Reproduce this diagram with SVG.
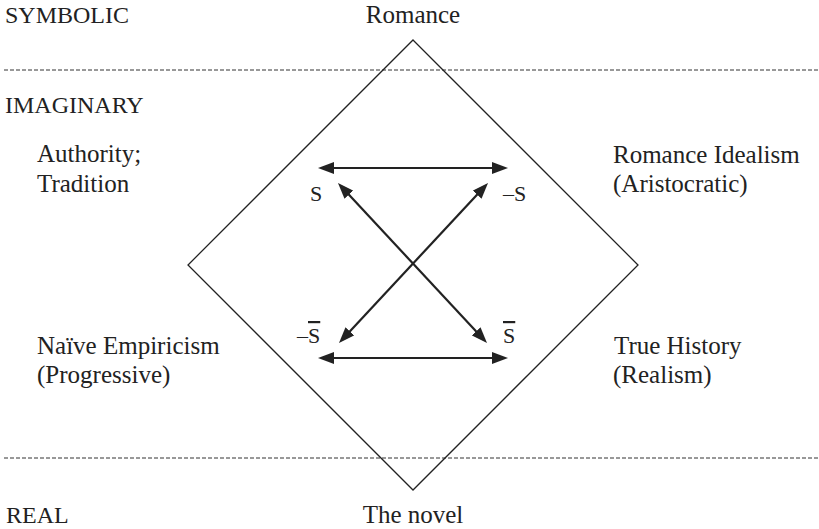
<svg xmlns="http://www.w3.org/2000/svg" width="819" height="529" viewBox="0 0 819 529">
<style>
  text { font-family: "Liberation Serif", "Times New Roman", Times, "DejaVu Serif", serif; fill: #222; }
  .t { font-size: 25px; }
  .c { font-size: 24px; }
  .s { font-size: 22px; }
  .dash { stroke: #333; stroke-width: 1; stroke-dasharray: 4 2; fill: none; }
  .dia { stroke: #222; stroke-width: 1.3; fill: none; }
  .arr { stroke: #222; stroke-width: 2.2; fill: none; marker-start: url(#ah); marker-end: url(#ah); }
</style>
<defs>
  <marker id="ah" viewBox="0 0 16 12" markerWidth="16" markerHeight="12" refX="6" refY="6" markerUnits="userSpaceOnUse" orient="auto-start-reverse">
    <path d="M0,0 L16,6 L0,12 z" fill="#222"/>
  </marker>
</defs>
<rect width="819" height="529" fill="#fff"/>
<g id="levels">
  <line class="dash" x1="4" y1="70" x2="819" y2="70"/>
  <line class="dash" x1="4" y1="458" x2="819" y2="458"/>
  <text class="c" x="5" y="23">SYMBOLIC</text>
  <text class="c" x="5" y="113">IMAGINARY</text>
  <text class="c" x="6" y="523">REAL</text>
</g>
<g id="diamond">
  <polygon class="dia" points="413,40 638,265 413,490 188,265"/>
</g>
<g id="node-romance"><text class="t" x="413" y="23" text-anchor="middle">Romance</text></g>
<g id="node-novel"><text class="t" x="413" y="523" text-anchor="middle">The novel</text></g>
<g id="node-authority">
  <text class="t" x="37" y="162">Authority;</text>
  <text class="t" x="37" y="192">Tradition</text>
</g>
<g id="node-idealism">
  <text class="t" x="613" y="163">Romance Idealism</text>
  <text class="t" x="613" y="192">(Aristocratic)</text>
</g>
<g id="node-empiricism">
  <text class="t" x="37" y="354">Naïve Empiricism</text>
  <text class="t" x="37" y="383">(Progressive)</text>
</g>
<g id="node-history">
  <text class="t" x="614" y="354">True History</text>
  <text class="t" x="613" y="383">(Realism)</text>
</g>
<g id="node-s"><text class="s" x="310" y="201">S</text></g>
<g id="node-neg-s"><text class="s" x="503" y="201">–S</text></g>
<g id="node-neg-sbar"><text class="s" x="297" y="343">–<tspan text-decoration="overline">S</tspan></text></g>
<g id="node-sbar"><text class="s" x="503" y="343"><tspan text-decoration="overline">S</tspan></text></g>
<g id="connectors">
  <line class="arr" x1="328" y1="168" x2="498" y2="168"/>
  <line class="arr" x1="328" y1="358" x2="498" y2="358"/>
  <line class="arr" x1="344.8" y1="190.3" x2="480.2" y2="335.7"/>
  <line class="arr" x1="481.2" y1="190.3" x2="345.8" y2="335.7"/>
</g>
</svg>
